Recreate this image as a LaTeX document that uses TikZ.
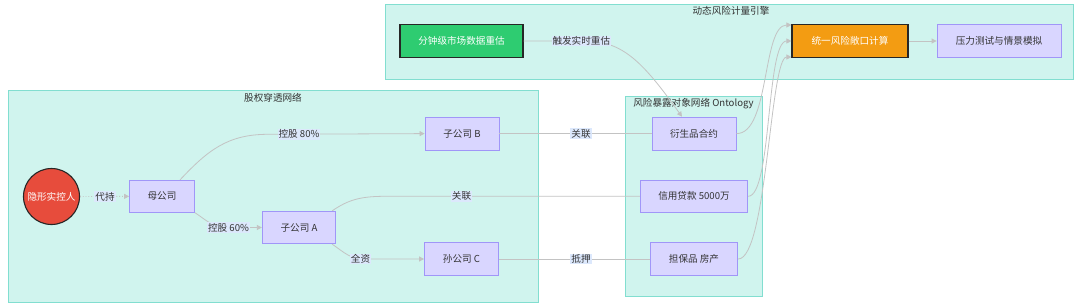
\documentclass[tikz,border=0pt]{standalone}
\usepackage{fontspec}
\setmainfont{Noto Sans CJK SC}
\usetikzlibrary{arrows.meta}
\definecolor{clfill}{RGB}{208,244,238}
\definecolor{clline}{RGB}{130,222,208}
\definecolor{boxfill}{RGB}{217,214,255}
\definecolor{boxline}{RGB}{160,150,248}
\definecolor{edgec}{RGB}{195,195,195}
\definecolor{lblfill}{RGB}{220,232,252}
\definecolor{txt}{RGB}{51,51,51}
\definecolor{gnode}{RGB}{46,204,113}
\definecolor{onode}{RGB}{243,156,18}
\definecolor{rnode}{RGB}{231,76,60}
\tikzset{
  cluster/.style={draw=clline, fill=clfill, line width=0.8pt},
  cltitle/.style={text=txt, font=\fontsize{9.6}{11}\selectfont, inner sep=0pt},
  box/.style={draw=boxline, fill=boxfill, line width=0.8pt, inner sep=0pt, text=txt, font=\fontsize{9.6}{11}\selectfont},
  hot/.style={draw=black!85, line width=1.1pt, inner sep=0pt, text=white, font=\fontsize{9.6}{11}\selectfont},
  edge/.style={draw=edgec, line width=0.8pt},
  arr/.style={-{Triangle[length=5pt,width=5pt]}},
  lbl/.style={fill=lblfill, inner sep=1pt, text=txt, font=\fontsize{9.6}{11}\selectfont},
}
\begin{document}
\begin{tikzpicture}[x=1pt,y=-1pt]
\useasboundingbox (0,0) rectangle (1080,308);
% clusters
\draw[cluster] (385,4) rectangle (1073,79);
\node[cltitle] (t1) at (731,11) {动态风险计量引擎};
\draw[cluster] (8,90) rectangle (538,302);
\node[cltitle] (t2) at (273,98) {股权穿透网络};
\draw[cluster] (625.5,96.5) rectangle (762.5,296);
\node[cltitle] (t3) at (693.5,103.5) {风险暴露对象网络 Ontology};
% nodes
\node[hot, fill=gnode, minimum width=123, minimum height=33] (g) at (461.5,41) {分钟级市场数据重估};
\node[hot, fill=onode, minimum width=116, minimum height=32.5] (o) at (850,41) {统一风险敞口计算};
\node[box, minimum width=124, minimum height=32.5] (s) at (999,41) {压力测试与情景模拟};
\node[hot, fill=rnode, circle, minimum size=56] (r) at (51.5,196.5) {隐形实控人};
\node[box, minimum width=65, minimum height=32] (m) at (162,196.3) {母公司};
\node[box, minimum width=73.5, minimum height=32.5] (a) at (299,227.5) {子公司 A};
\node[box, minimum width=74, minimum height=33] (b) at (462,133.6) {子公司 B};
\node[box, minimum width=74, minimum height=33] (c) at (461.5,259) {孙公司 C};
\node[box, minimum width=84, minimum height=33] (d) at (694,133.6) {衍生品合约};
\node[box, minimum width=107.5, minimum height=32] (l) at (694,196.3) {信用贷款 5000万};
\node[box, minimum width=87.5, minimum height=33] (k) at (694,259) {担保品 房产};
% edges
\draw[edge, arr, dotted] (r) -- (m);
\node[lbl] (l1) at (105,196.5) {代持};
\draw[edge, arr] ([xshift=18]m.north) .. controls (208,150) and (228,134.3) .. (268,134.3) -- (b.west);
\node[lbl] (l80) at (299,134.3) {控股 80\%};
\draw[edge, arr] (m.south east) .. controls (205,219) and (212,227.5) .. (228,227.5) -- (a.west);
\node[lbl] (l60) at (228.5,227.5) {控股 60\%};
\draw[edge] ([xshift=-4]a.north east) .. controls (348,200) and (360,196.3) .. (385,196.3) -- (l.west);
\node[lbl] (lg1) at (461.5,196.3) {关联};
\draw[edge, arr] ([xshift=-4]a.south east) .. controls (345,253) and (350,259) .. (365,259) -- (c.west);
\node[lbl] (lqz) at (360.5,259) {全资};
\draw[edge] (b.east) -- (d.west);
\node[lbl] (lg2) at (581,133.6) {关联};
\draw[edge] (c.east) -- (k.west);
\node[lbl] (ldy) at (581,259) {抵押};
\draw[edge, arr] (g.east) -- (590,41) .. controls (625,43) and (645,65) .. ([xshift=-12]d.north);
\node[lbl] (lcf) at (581.3,41) {触发实时重估};
\draw[edge, arr] (d.east) .. controls (770,134) and (762,25) .. (o.west |- 0,25);
\draw[edge, arr] (l.east) .. controls (772,196) and (766,41) .. (o.west);
\draw[edge, arr] (k.east) .. controls (767,259) and (770,57) .. (o.west |- 0,57);
\draw[edge, arr] (o) -- (s);
\end{tikzpicture}
\end{document}
